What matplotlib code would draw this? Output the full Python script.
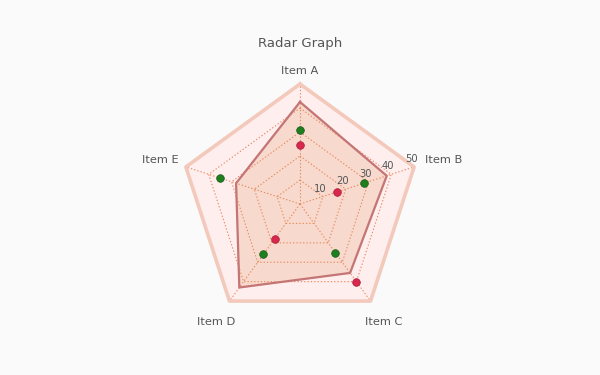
import numpy as np
import matplotlib
matplotlib.use("Agg")
import matplotlib.pyplot as plt

items = ["Item A", "Item B", "Item C", "Item D", "Item E"]
area_vals = [42.5, 38, 35.5, 43, 28]
green_vals = [31, 28, 25, 26, 35]
red_vals = [24.5, 16, 40, 18, np.nan]
rings = [10, 20, 30, 40, 50]
r_max = 50


def to_xy(vals):
    vals = np.asarray(vals, dtype=float)
    ang = np.pi / 2 - np.arange(len(vals)) * 2 * np.pi / len(vals)
    return vals * np.cos(ang), vals * np.sin(ang)


def closed(a):
    return np.append(a, a[0])


fig = plt.figure(figsize=(6, 3.75), dpi=100)
fig.patch.set_facecolor("#fafafa")
ax = fig.add_axes([0, 0, 1, 1])
ax.set_facecolor("#fafafa")
ax.set_xlim(-125, 125)
ax.set_ylim(-71.25, 85)
ax.axis("off")

n = len(items)
# outer band
ox, oy = to_xy([r_max] * n)
ax.fill(closed(ox), closed(oy), color="#ffeeee", zorder=1)
ax.plot(closed(ox), closed(oy), color="#f3c9bb", lw=2.6, zorder=5)

# area series
axx, ayy = to_xy(area_vals)
ax.fill(closed(axx), closed(ayy), color="#f5d2c2", alpha=0.75, zorder=2)
ax.plot(closed(axx), closed(ayy), color="#c47575", lw=1.6, zorder=4)

# grid
for r in rings[:-1]:
    gx, gy = to_xy([r] * n)
    ax.plot(closed(gx), closed(gy), color="#e88a5e", lw=0.8, ls=(0, (1.2, 1.8)), zorder=3)
for i in range(n):
    ax.plot([0, ox[i]], [0, oy[i]], color="#e88a5e", lw=0.8, ls=(0, (1.2, 1.8)), zorder=3)

# tick labels along Item B axis
for r in rings:
    v = [0] * n
    v[1] = r
    tx, ty = to_xy(v)
    ax.annotate(str(r), (tx[1], ty[1]), xytext=(-3, 8), textcoords="offset pixels",
                ha="center", va="center", fontsize=7.2, color="#555555", zorder=6)

# scatter series
gx, gy = to_xy(green_vals)
ax.plot(gx, gy, "o", ms=5.5, color="#1f7f1f", mec="#155a15", mew=0.5, ls="none", zorder=7)
rx, ry = to_xy(red_vals)
ax.plot(rx, ry, "o", ms=5.5, color="#d8284c", mec="#a81838", mew=0.5, ls="none", zorder=7)

# item labels
offsets = [(0, 13, "center"), (11, 7, "left"), (13, -21, "center"),
           (-13, -21, "center"), (-7, 7, "right")]
for i, name in enumerate(items):
    dx, dy, ha = offsets[i]
    ax.annotate(name, (ox[i], oy[i]), xytext=(dx, dy), textcoords="offset pixels",
                ha=ha, va="center", fontsize=8.2, color="#555555")

fig.text(0.5, 1 - 43 / 375, "Radar Graph", ha="center", va="center",
         fontsize=9.5, color="#555555")

fig.savefig("out.png", dpi=100, facecolor=fig.get_facecolor())
